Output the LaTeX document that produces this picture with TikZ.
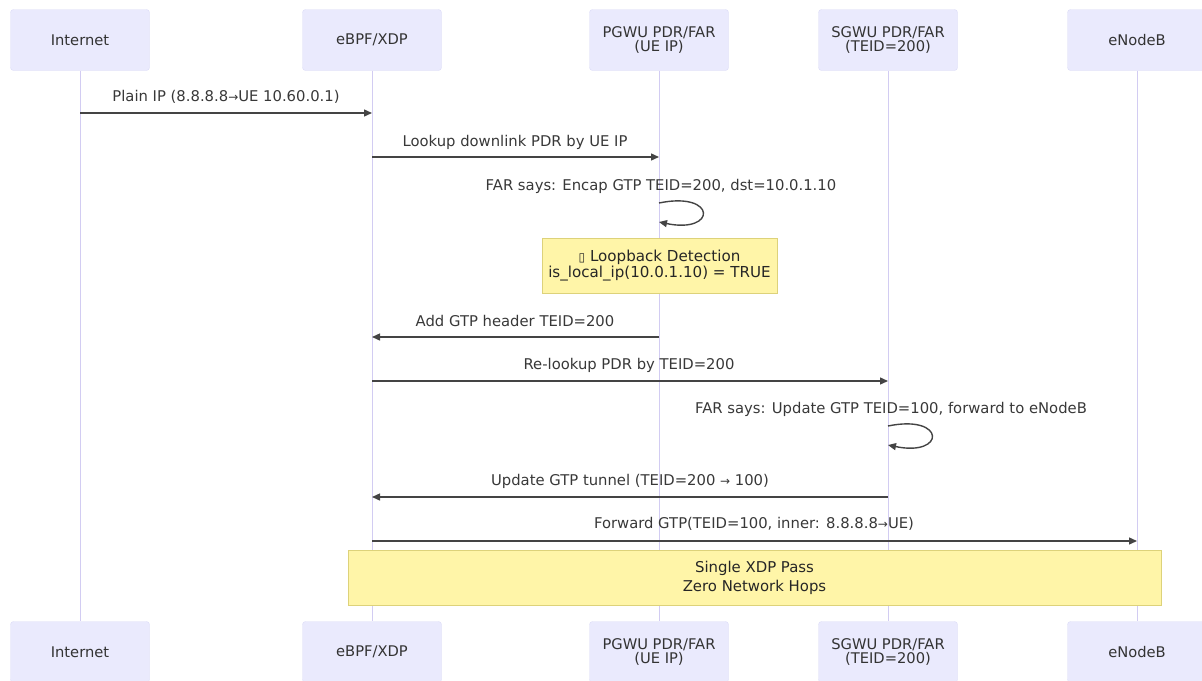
\documentclass[tikz,border=0pt]{standalone}
\usepackage{fontspec}
\setmainfont{DejaVu Sans}
\newfontfamily\dv{DejaVu Sans}
\usetikzlibrary{arrows.meta}
\definecolor{actfill}{HTML}{EAEAFD}
\definecolor{actdraw}{HTML}{DCDCF6}
\definecolor{lifecol}{HTML}{D2CCF2}
\definecolor{notefill}{HTML}{FFF5A8}
\definecolor{notedraw}{HTML}{DDD27A}
\definecolor{msgcol}{HTML}{444444}
\newcommand{\ar}{{\dv\fontsize{12}{13}\selectfont →}}
\begin{document}
\begin{tikzpicture}[x=1pt,y=-1pt,
  actor/.style={draw=actdraw, fill=actfill, rounded corners=3pt, minimum width=139pt, minimum height=61pt, align=center, inner sep=0pt, font=\fontsize{14.7}{14}\selectfont, text=black!80},
  life/.style={draw=lifecol, line width=0.9pt},
  msg/.style={draw=msgcol, line width=1.4pt, -{Triangle[length=8pt,width=7pt]}},
  lbl/.style={font=\fontsize{14.8}{15}\selectfont, text=black!78, inner sep=0pt},
  note/.style={draw=notedraw, fill=notefill, align=center, inner sep=0pt, text=black!85}]
\useasboundingbox (0,0) rectangle (1202,680);
% top actors
\node[actor] (a1) at (80,40) {Internet};
\node[actor] (a2) at (372,40) {eBPF/XDP};
\node[actor] (a3) at (659,40) {PGWU PDR/FAR\\(UE IP)};
\node[actor] (a4) at (888,40) {SGWU PDR/FAR\\(TEID=200)};
\node[actor] (a5) at (1137,40) {eNodeB};
% bottom actors
\node[actor] (b1) at (80,652) {Internet};
\node[actor] (b2) at (372,652) {eBPF/XDP};
\node[actor] (b3) at (659,652) {PGWU PDR/FAR\\(UE IP)};
\node[actor] (b4) at (888,652) {SGWU PDR/FAR\\(TEID=200)};
\node[actor] (b5) at (1137,652) {eNodeB};
% lifelines
\foreach \i in {1,...,5} {\draw[life] (a\i.south) -- (b\i.north);}
% rows
\coordinate (r1) at (0,113);
\coordinate (r2) at (0,157);
\coordinate (r3a) at (0,203);
\coordinate (r3b) at (0,222);
\coordinate (r5) at (0,337);
\coordinate (r6) at (0,381);
\coordinate (r7a) at (0,426);
\coordinate (r7b) at (0,445);
\coordinate (r8) at (0,497);
\coordinate (r9) at (0,541);
% notes
\node[note, minimum width=235pt, minimum height=55pt, font=\fontsize{15.1}{16}\selectfont] (n1) at (659.5,265.5) {{\fontsize{12}{12}\selectfont ▯} Loopback Detection\\is\_local\_ip(10.0.1.10) = TRUE};
\node[note, minimum width=813pt, minimum height=55pt, font=\fontsize{14.9}{19}\selectfont] (n2) at (754.5,577.5) {Single XDP Pass\\Zero Network Hops};
% messages
\draw[msg] (a1 |- r1) -- (a2 |- r1);
\node[lbl] (l1) at (226,97) {Plain IP (8.8.8.8\ar UE 10.60.0.1)};
\draw[msg] (a2 |- r2) -- (a3 |- r2);
\node[lbl] (l2) at (515,142) {Lookup downlink PDR by UE IP};
\draw[msg] (a3 |- r3a) .. controls +(58,-12) and +(58,12) .. (a3 |- r3b);
\node[lbl] (l3) at (661,186) {FAR says: Encap GTP TEID=200, dst=10.0.1.10};
\draw[msg] (a3 |- r5) -- (a2 |- r5);
\node[lbl] (l5) at (515,321) {Add GTP header TEID=200};
\draw[msg] (a2 |- r6) -- (a4 |- r6);
\node[lbl] (l6) at (629,365) {Re-lookup PDR by TEID=200};
\draw[msg] (a4 |- r7a) .. controls +(58,-12) and +(58,12) .. (a4 |- r7b);
\node[lbl] (l7) at (891,409) {FAR says: Update GTP TEID=100, forward to eNodeB};
\draw[msg] (a4 |- r8) -- (a2 |- r8);
\node[lbl] (l8) at (630,481) {Update GTP tunnel (TEID=200 \ar\ 100)};
\draw[msg] (a2 |- r9) -- (a5 |- r9);
\node[lbl] (l9) at (754,524) {Forward GTP(TEID=100, inner: 8.8.8.8\ar UE)};
\end{tikzpicture}
\end{document}
